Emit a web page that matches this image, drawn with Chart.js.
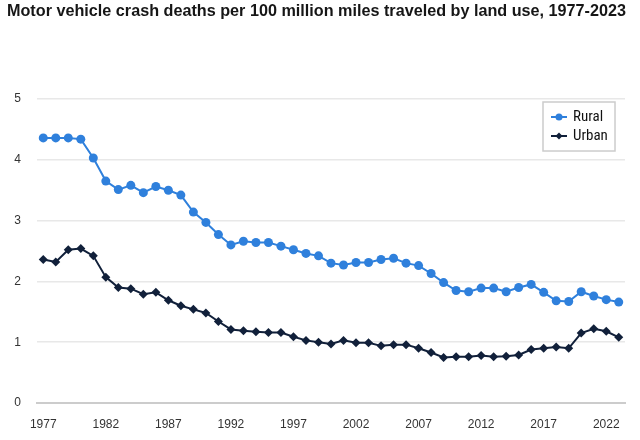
<!DOCTYPE html>
<html>
<head>
<meta charset="utf-8">
<script src="https://cdn.jsdelivr.net/npm/chart.js@4/dist/chart.umd.min.js"></script>
<style>
html,body{margin:0;padding:0;background:#fff;}
#wrap{width:640px;height:440px;position:relative;}
</style>
</head>
<body>
<div id="wrap"><canvas id="c" width="640" height="440"></canvas></div>
<script>
const years = [];
for (let y = 1977; y <= 2023; y++) years.push(String(y));
const rural = [4.36,4.36,4.36,4.34,4.03,3.65,3.51,3.58,3.46,3.56,3.50,3.42,3.14,2.97,2.77,2.60,2.66,2.64,2.64,2.58,2.52,2.46,2.42,2.30,2.27,2.31,2.31,2.36,2.38,2.30,2.26,2.13,1.98,1.85,1.83,1.89,1.89,1.83,1.90,1.95,1.82,1.68,1.67,1.83,1.76,1.70,1.66];
const urban = [2.36,2.32,2.52,2.54,2.42,2.07,1.90,1.88,1.79,1.82,1.69,1.60,1.54,1.48,1.34,1.21,1.19,1.17,1.16,1.16,1.09,1.03,1.00,0.97,1.03,0.99,0.99,0.94,0.96,0.96,0.90,0.83,0.75,0.76,0.76,0.78,0.76,0.77,0.79,0.88,0.90,0.92,0.90,1.15,1.22,1.18,1.08];
const yTicks = [0,1,2,3,4,5];
const titleText = 'Motor vehicle crash deaths per 100 million miles traveled by land use, 1977-2023';

const FONT = "'Liberation Sans', Arial, sans-serif";
const NARROW = "'Liberation Sans Narrow', 'Arial Narrow', 'Roboto Condensed', sans-serif";
const ruralColor = '#2f80dc';
const urbanColor = '#11203a';

const overlayPlugin = {
  id: 'overlay',
  afterDraw(chart) {
    const ctx = chart.ctx;
    ctx.save();
    // title
    ctx.fillStyle = '#161616';
    ctx.font = 'bold 16.2px ' + FONT;
    ctx.textBaseline = 'middle';
    ctx.textAlign = 'left';
    ctx.fillText(titleText, 7, 12);
    // legend
    const x = 543, y = 102, w = 72, h = 49;
    ctx.fillStyle = '#fff';
    ctx.fillRect(x, y, w, h);
    ctx.strokeStyle = '#cccccc';
    ctx.lineWidth = 1.5;
    ctx.strokeRect(x, y, w, h);
    chart.data.datasets.forEach((ds, i) => {
      const cy = y + 15 + i * 19;
      const mx = x + 16;
      ctx.strokeStyle = ds.borderColor;
      ctx.lineWidth = 2;
      ctx.beginPath();
      ctx.moveTo(mx - 8, cy);
      ctx.lineTo(mx + 8, cy);
      ctx.stroke();
      ctx.fillStyle = ds.borderColor;
      ctx.beginPath();
      if (ds.pointStyle === 'rectRot') {
        const r = 3.5;
        ctx.moveTo(mx, cy - r);
        ctx.lineTo(mx + r, cy);
        ctx.lineTo(mx, cy + r);
        ctx.lineTo(mx - r, cy);
        ctx.closePath();
      } else {
        ctx.arc(mx, cy, 3.5, 0, Math.PI * 2);
      }
      ctx.fill();
      ctx.fillStyle = '#111111';
      ctx.font = '15px ' + NARROW;
      ctx.textBaseline = 'middle';
      ctx.fillText(ds.label, x + 30, cy);
    });
    ctx.restore();
  }
};

new Chart(document.getElementById('c'), {
  type: 'line',
  data: {
    labels: years,
    datasets: [
      {
        label: 'Rural',
        data: rural,
        borderColor: ruralColor,
        backgroundColor: ruralColor,
        borderWidth: 2,
        pointStyle: 'circle',
        pointRadius: 4.5,
        pointBorderWidth: 0,
        tension: 0
      },
      {
        label: 'Urban',
        data: urban,
        borderColor: urbanColor,
        backgroundColor: urbanColor,
        borderWidth: 2,
        pointStyle: 'rectRot',
        pointRadius: 4.5,
        pointBorderWidth: 0,
        tension: 0
      }
    ]
  },
  options: {
    responsive: false,
    animation: false,
    devicePixelRatio: 1,
    layout: { padding: { left: 0, right: 15, top: 99, bottom: 0 } },
    plugins: {
      legend: { display: false },
      tooltip: { enabled: false },
      title: { display: false }
    },
    scales: {
      x: {
        type: 'category',
        offset: true,
        grid: { display: false, drawTicks: false },
        border: { display: true, color: '#cccccc', width: 2 },
        afterFit: (s) => { s.height = 37; },
        ticks: {
          autoSkip: false,
          maxRotation: 0,
          padding: 14,
          color: '#333333',
          font: { family: FONT, size: 12 },
          callback: function(v, i) { return i % 5 === 0 ? this.getLabelForValue(v) : ''; }
        }
      },
      y: {
        min: 0,
        max: 5,
        afterBuildTicks: (s) => { s.ticks = yTicks.map(v => ({ value: v })); },
        grid: { color: '#e8e8e8', lineWidth: 1.5, drawTicks: false },
        border: { display: false },
        afterFit: (s) => { s.width = 37; },
        ticks: {
          padding: 16,
          color: '#333333',
          font: { family: FONT, size: 12 }
        }
      }
    }
  },
  plugins: [overlayPlugin]
});
</script>
</body>
</html>
